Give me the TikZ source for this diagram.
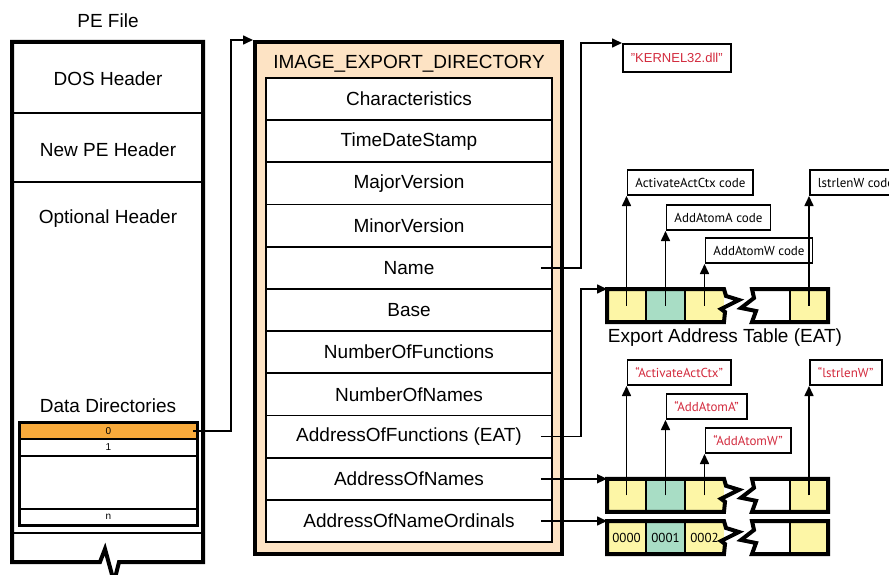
\documentclass[tikz,border=0pt]{standalone}
\usepackage{fontspec}
\setmainfont{Liberation Sans}
\newfontfamily\codefont{PT Sans}
\usepackage{xcolor}
\usepackage{tikz}
\usetikzlibrary{arrows.meta,positioning}

\definecolor{peach}{HTML}{FDE3C4}
\definecolor{ddorange}{HTML}{F8AA3B}
\definecolor{eatyellow}{HTML}{FDF6A6}
\definecolor{eatgreen}{HTML}{A8DDC5}
\definecolor{redtext}{HTML}{D32B3E}

\begin{document}
\begin{tikzpicture}[
  x=1pt, y=-1pt,
  font=\fontsize{19}{22}\selectfont,
  ddrow/.style={draw, line width=1.5, fill=white, minimum width=177, inner sep=0, font=\fontsize{10}{11}\selectfont},
  iedrow/.style={draw, line width=1.8, fill=white, minimum width=286, minimum height=42.2, inner sep=0},
  cell/.style={minimum width=39, minimum height=33, inner sep=0, outer sep=0, font=\codefont\fontsize{13}{15}\selectfont},
  codebox/.style={draw, line width=1.8, fill=white, anchor=south west, minimum height=25, inner xsep=8, font=\codefont\fontsize{13}{15}\selectfont},
  namebox/.style={codebox, text=redtext},
  boxframe/.style={line width=4, line join=miter},
  divider/.style={line width=1.8},
  arrow/.style={line width=1.6, -{Triangle[length=10pt,width=9pt]}}
]
  \useasboundingbox (0,0) rectangle (889,575);

  % PE file
  \node (pefile) at (108,21) {PE File};
  \node (dos) at (108,79) {DOS Header};
  \node (newpe) at (108,150) {New PE Header};
  \node (opt) at (108,219) {Optional Header};
  \node (datadir) at (108,406) {Data Directories};
  \draw[divider] (12,113) -- (203,113);
  \draw[divider] (12,182) -- (203,182);
  \draw[divider] (12,533) -- (203,533);
  \draw[boxframe] (100,562) -- (12,562) -- (12,42) -- (203,42) -- (203,562) -- (119,562) -- (114,582) -- (105,549) -- cycle;

  % data directories
  \node[ddrow, fill=ddorange, minimum height=16] (dd0) at (108.5,431) {0};
  \node[ddrow, minimum height=17] (dd1) at (108.5,447.5) {1};
  \node[ddrow, minimum height=53] (ddgap) at (108.5,482.5) {};
  \node[ddrow, minimum height=16] (ddn) at (108.5,517) {n};
  \draw[line width=2.5] (dd0.north west) rectangle (ddn.south east);

  % IMAGE_EXPORT_DIRECTORY
  \node[draw, line width=4, fill=peach, minimum width=307, minimum height=512, inner sep=0] (ied) at (408.5,298) {};
  \node (iedtitle) at (409,64) {IMAGE\_EXPORT\_DIRECTORY};
  \node[iedrow] (chars) at (409,99) {Characteristics};
  \node[iedrow] (stamp) at (409,141.2) {TimeDateStamp};
  \node[iedrow] (major) at (409,183.4) {MajorVersion};
  \node[iedrow] (minor) at (409,225.6) {MinorVersion};
  \node[iedrow] (namefield) at (409,267.8) {Name};
  \node[iedrow] (base) at (409,310) {Base};
  \node[iedrow] (numfuncs) at (409,352.2) {NumberOfFunctions};
  \node[iedrow] (numnames) at (409,394.4) {NumberOfNames};
  \node[iedrow] (funcs) at (409,436.6) {AddressOfFunctions (EAT)};
  \node[iedrow] (names) at (409,478.8) {AddressOfNames};
  \node[iedrow] (ordinals) at (409,521) {AddressOfNameOrdinals};

  % DLL name
  \node[codebox, anchor=north west, text=redtext, font=\fontsize{13}{15}\selectfont, minimum height=28] (kernel) at (622,43) {"KERNEL32.dll"};

  % Export Address Table
  \node[cell, fill=eatyellow] (eat1) at (626.5,305.5) {};
  \node[cell, fill=eatgreen] (eat2) at (665.5,305.5) {};
  \node[cell, fill=eatyellow] (eat3) at (704.5,305.5) {};
  \node[cell, minimum width=38, fill=white] (eat4) at (771,305.5) {};
  \node[cell, minimum width=38, fill=eatyellow] (eat5) at (809,305.5) {};
  \draw[divider] (eat1.north east) -- (eat1.south east);
  \draw[divider] (eat2.north east) -- (eat2.south east);
  \draw[divider] (eat4.north east) -- (eat4.south east);
  \draw[boxframe] (eat3.north east) -- ++(2,7) -- ++(13,4) -- ++(-18,9) -- ++(4,3) -- (eat3.south east) -- (eat1.south west) -- (eat1.north west) -- cycle;
  \draw[boxframe] (eat4.north west) -- ++(2,9) -- ++(-13,10) -- ++(15,3) -- (eat4.south west) -- (eat5.south east) -- (eat5.north east) -- cycle;
  \node (eatlabel) at (725,338) {Export Address Table (EAT)};

  \node[codebox] (actcode) at (626.5,196) {ActivateActCtx code};
  \node[codebox] (addacode) at (665.5,231) {AddAtomA code};
  \node[codebox] (addwcode) at (704.5,264) {AddAtomW code};
  \node[codebox] (lstrcode) at (809,196) {lstrlenW code};
  \draw[arrow] (eat1.center) -- (actcode.south west);
  \draw[arrow] (eat2.center) -- (addacode.south west);
  \draw[arrow] (eat3.center) -- (addwcode.south west);
  \draw[arrow] (eat5.center) -- (lstrcode.south west);

  % name table
  \node[cell, fill=eatyellow] (nam1) at (626.5,495.3) {};
  \node[cell, fill=eatgreen] (nam2) at (665.5,495.3) {};
  \node[cell, fill=eatyellow] (nam3) at (704.5,495.3) {};
  \node[cell, minimum width=38, fill=white] (nam4) at (771,495.3) {};
  \node[cell, minimum width=38, fill=eatyellow] (nam5) at (809,495.3) {};
  \draw[divider] (nam1.north east) -- (nam1.south east);
  \draw[divider] (nam2.north east) -- (nam2.south east);
  \draw[divider] (nam4.north east) -- (nam4.south east);
  \draw[boxframe] (nam3.north east) -- ++(2,7) -- ++(13,4) -- ++(-18,9) -- ++(4,3) -- (nam3.south east) -- (nam1.south west) -- (nam1.north west) -- cycle;
  \draw[boxframe] (nam4.north west) -- ++(2,9) -- ++(-13,10) -- ++(15,3) -- (nam4.south west) -- (nam5.south east) -- (nam5.north east) -- cycle;

  \node[namebox] (actname) at (626.5,386) {“ActivateActCtx”};
  \node[namebox] (addaname) at (665.5,420) {“AddAtomA”};
  \node[namebox] (addwname) at (704.5,454) {“AddAtomW”};
  \node[namebox] (lstrname) at (809,386) {“lstrlenW”};
  \draw[arrow] (nam1.center) -- (actname.south west);
  \draw[arrow] (nam2.center) -- (addaname.south west);
  \draw[arrow] (nam3.center) -- (addwname.south west);
  \draw[arrow] (nam5.center) -- (lstrname.south west);

  % ordinal table
  \node[cell, fill=eatyellow] (ord1) at (626.5,537.5) {0000};
  \node[cell, fill=eatgreen] (ord2) at (665.5,537.5) {0001};
  \node[cell, fill=eatyellow] (ord3) at (704.5,537.5) {0002};
  \node[cell, minimum width=38, fill=white] (ord4) at (771,537.5) {};
  \node[cell, minimum width=38, fill=eatyellow] (ord5) at (809,537.5) {};
  \draw[divider] (ord1.north east) -- (ord1.south east);
  \draw[divider] (ord2.north east) -- (ord2.south east);
  \draw[divider] (ord4.north east) -- (ord4.south east);
  \draw[boxframe] (ord3.north east) -- ++(2,7) -- ++(13,4) -- ++(-18,9) -- ++(4,3) -- (ord3.south east) -- (ord1.south west) -- (ord1.north west) -- cycle;
  \draw[boxframe] (ord4.north west) -- ++(2,9) -- ++(-13,10) -- ++(15,3) -- (ord4.south west) -- (ord5.south east) -- (ord5.north east) -- cycle;

  % connectors
  \draw[arrow] ([xshift=-5pt]dd0.east) -- ([xshift=33pt]dd0.east) |- (ied.north west);
  \draw[arrow] ([xshift=-12pt]namefield.east) -- ++(40,0) |- (kernel.north west);
  \draw[arrow] ([xshift=-12pt]funcs.east) -- ++(40,0) |- (eat1.north west);
  \draw[arrow] ([xshift=-12pt]names.east) -- (nam1.north west);
  \draw[arrow] ([xshift=-12pt]ordinals.east) -- (ord1.north west);
\end{tikzpicture}
\end{document}
